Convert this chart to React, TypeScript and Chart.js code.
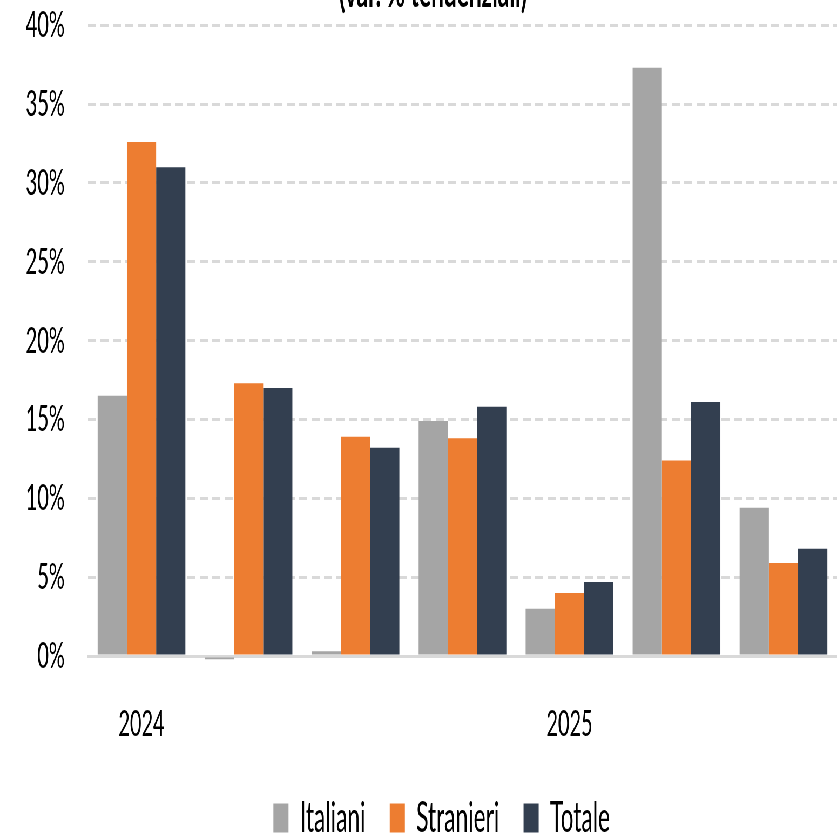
import React, { useEffect, useRef } from 'react';
import { Chart, registerables } from 'chart.js';

Chart.register(...registerables);

const categories = ['2024', '', '', '', '2025', '', ''];
const italiani = [16.5, -0.2, 0.3, 14.9, 3.0, 37.3, 9.4];
const stranieri = [32.6, 17.3, 13.9, 13.8, 4.0, 12.4, 5.9];
const totale = [31.0, 17.0, 13.2, 15.8, 4.7, 16.1, 6.8];
const seriesNames = ['Italiani', 'Stranieri', 'Totale'];
const seriesColors = ['#a5a5a5', '#ed7d31', '#333f50'];
const subtitle = '(var. % tendenziali)';
const yMin = 0;
const yMax = 40;
const yStep = 5;

const SX = 0.54;
const W = Math.round(837 / SX);
const OFFSET = 40;
const H = 838 + OFFSET;
const FONT = 'Lato, "Open Sans", sans-serif';

const shiftPlugin = {
  id: 'shiftBlocks',
  afterLayout(chart: any) {
    if (chart.legend) {
      chart.legend.left += 86;
    }
    if (chart.titleBlock) {
      chart.titleBlock.left += 27;
      chart.titleBlock.right += 27;
    }
  },
};

export default function App() {
  const ref = useRef<HTMLCanvasElement | null>(null);

  useEffect(() => {
    if (!ref.current) return;
    const chart = new Chart(ref.current, {
      type: 'bar',
      data: {
        labels: categories,
        datasets: [italiani, stranieri, totale].map((d, i) => ({
          label: seriesNames[i],
          data: d,
          backgroundColor: seriesColors[i],
          borderWidth: 0,
          categoryPercentage: 0.82,
          barPercentage: 1.0,
          clip: false as any,
        })),
      },
      plugins: [shiftPlugin],
      options: {
        animation: false,
        responsive: true,
        maintainAspectRatio: false,
        layout: { padding: { left: 0, right: 0, top: 0, bottom: -11 } },
        plugins: {
          title: {
            display: true,
            text: subtitle,
            color: '#000',
            font: { family: FONT, size: 42, weight: 'bold' },
            padding: { top: 7, bottom: 7 },
          },
          legend: {
            position: 'bottom',
            labels: {
              color: '#000',
              font: { family: FONT, size: 42 },
              boxWidth: 28,
              boxHeight: 29,
              padding: 45,
            },
          },
          tooltip: { enabled: false },
        },
        scales: {
          x: {
            grid: { display: false },
            border: { display: true, color: '#d9d9d9', width: 3 },
            ticks: {
              color: '#000',
              font: { family: FONT, size: 37 },
              padding: 38,
              maxRotation: 0,
              autoSkip: false,
            },
            afterFit: (scale: any) => {
              scale.height = 96;
            },
          },
          y: {
            min: yMin,
            max: yMax,
            grid: {
              drawTicks: false,
              lineWidth: 3,
              color: (ctx: any) => (ctx.tick && ctx.tick.value === 0 ? 'rgba(0,0,0,0)' : '#d9d9d9'),
            },
            border: { display: false, dash: [15, 8] },
            ticks: {
              stepSize: yStep,
              color: '#000',
              font: { family: FONT, size: 37 },
              padding: 43,
              callback: (v: any) => v + '%',
            },
            afterFit: (scale: any) => {
              scale.width = 163;
            },
          },
        },
      },
    });
    return () => chart.destroy();
  }, []);

  return (
    <div
      style={{
        position: 'fixed',
        left: 0,
        top: -OFFSET,
        width: W,
        height: H,
        transform: `scaleX(${SX})`,
        transformOrigin: '0 0',
        background: '#fff',
      }}
    >
      <canvas ref={ref} />
    </div>
  );
}
